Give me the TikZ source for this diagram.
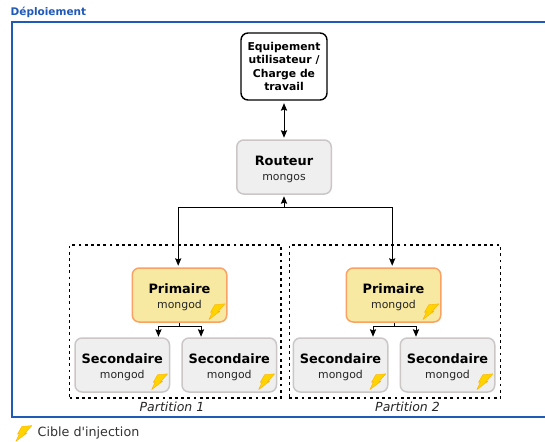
\documentclass[tikz,border=0pt]{standalone}
\usepackage{fontspec}
\setmainfont{DejaVu Sans}
\newfontfamily\legendfont{DejaVu Sans}
\usetikzlibrary{arrows.meta}
\definecolor{framebl}{HTML}{1F5AB8}
\definecolor{greyfill}{HTML}{EFEFEF}
\definecolor{greyline}{HTML}{CBC7C7}
\definecolor{primfill}{HTML}{F8E9A2}
\definecolor{primline}{HTML}{F9A264}
\definecolor{boltfill}{HTML}{FFD400}
\definecolor{boltline}{HTML}{FFB000}
\newcommand{\titlefont}{\fontsize{12.9}{15}\selectfont\bfseries\color{black}}
\newcommand{\subfont}{\fontsize{10.9}{15}\selectfont}
\tikzset{
  x=1pt,y=-1pt,
  base/.style={rounded corners=7pt,inner sep=0pt,align=center,minimum width=94.5pt,minimum height=54pt,line width=1.5pt,
    font=\subfont,text=black!85},
  greybox/.style={base,draw=greyline,fill=greyfill},
  primbox/.style={base,draw=primline,fill=primfill},
  userbox/.style={rounded corners=7pt,draw=black,fill=white,line width=1.4pt,minimum width=86pt,minimum height=67pt,inner sep=0pt,align=center,
    font=\fontsize{10.8}{13.4}\selectfont\bfseries},
  partbox/.style={draw=black,line width=1.1pt,dash pattern=on 2.8pt off 3.4pt,minimum width=211.5pt,minimum height=153pt,inner sep=0pt},
  partlabel/.style={inner sep=0pt,font=\fontsize{12.5}{15}\selectfont\itshape,text=black!85},
  arr/.style={draw=black,line width=0.9pt,-{Stealth[length=7.5pt,width=6.2pt,inset=1.2pt]},shorten >=1.5pt},
  arrboth/.style={draw=black,line width=0.9pt,{Stealth[length=7.5pt,width=6.2pt,inset=1.2pt]}-{Stealth[length=7.5pt,width=6.2pt,inset=1.2pt]},shorten >=1.5pt,shorten <=2.5pt},
  wire/.style={draw=black,line width=0.9pt},
  plainlabel/.style={inner sep=0pt,anchor=west},
  pics/bolt/.style={code={
    \draw[fill=boltfill,draw=boltline,line width=0.4pt,line join=round]
      (-12.7,-18) -- (-2.7,-18.9) -- (-10,-10.6) -- (-7.5,-11.6) -- (-18.6,-3.2) -- (-15,-11) -- (-17,-10.4) -- cycle;
  }}
}
\newcommand{\bx}[2]{\rule{0pt}{13.5pt}{\titlefont #1}\\{\subfont #2}}
\begin{document}
\begin{tikzpicture}
\useasboundingbox (0,0) rectangle (545,441);
\clip (0,0) rectangle (545,441);
\fill[white] (0,0) rectangle (545,441);

\draw[framebl,line width=1.3pt] (545,22) -- (12,22) -- (12,417) -- (545,417);
\node[plainlabel,text=framebl,font=\fontsize{10.5}{12}\selectfont\bfseries] (deploy) at (10.5,12) {Déploiement};

\node[partbox] (part1) at (175.25,321.5) {};
\node[partbox] (part2) at (395,321.5) {};
\node[partlabel] (lab1) at (172,406.5) {Partition 1};
\node[partlabel] (lab2) at (407.5,406.5) {Partition 2};

\node[userbox] (user) at (284,66.5) {Equipement\\utilisateur /\\Charge de\\travail};
\node[greybox] (rout) at (284,167) {\bx{Routeur}{mongos}};

\node[primbox] (p1) at (179.5,295) {\bx{Primaire}{mongod}};
\node[greybox] (s1) at (122.25,365) {\bx{Secondaire}{mongod}};
\node[greybox] (s2) at (229.25,365) {\bx{Secondaire}{mongod}};

\node[primbox] (p2) at (393.5,295) {\bx{Primaire}{mongod}};
\node[greybox] (s3) at (340.5,365) {\bx{Secondaire}{mongod}};
\node[greybox] (s4) at (447.5,365) {\bx{Secondaire}{mongod}};

\pic at (p1.south east) {bolt};
\pic at (p2.south east) {bolt};
\pic at (s1.south east) {bolt};
\pic at (s2.south east) {bolt};
\pic at (s3.south east) {bolt};
\pic at (s4.south east) {bolt};

\draw[arrboth] (user.south) -- (rout.north);

\coordinate (hub) at (284,207);
\draw[arr] (hub) -- (rout.south);
\draw[arr] (hub) -| ([xshift=-1.3pt]p1.north);
\draw[arr] (hub) -| ([xshift=-1.3pt]p2.north);

\coordinate (j1) at (179.5,326);
\coordinate (j2) at (394.5,326);
\draw[wire] (p1.south) -- (j1);
\draw[wire] (p2.south) ++(1,0) -- (j2);
\draw[arr,shorten >=0.5pt] (j1) -| ([xshift=36.2pt]s1.north);
\draw[arr,shorten >=0.5pt] (j1) -| ([xshift=-28.2pt]s2.north);
\draw[arr,shorten >=0.5pt] (j2) -| ([xshift=32.5pt]s3.north);
\draw[arr,shorten >=0.5pt] (j2) -| ([xshift=-31.5pt]s4.north);

\coordinate (legbolt) at (34.5,444.5);
\pic at (legbolt) {bolt};
\node[plainlabel,font=\legendfont\fontsize{12.7}{15}\selectfont,text=black!80] (legend) at (37.5,433) {Cible d'injection};
\end{tikzpicture}
\end{document}
